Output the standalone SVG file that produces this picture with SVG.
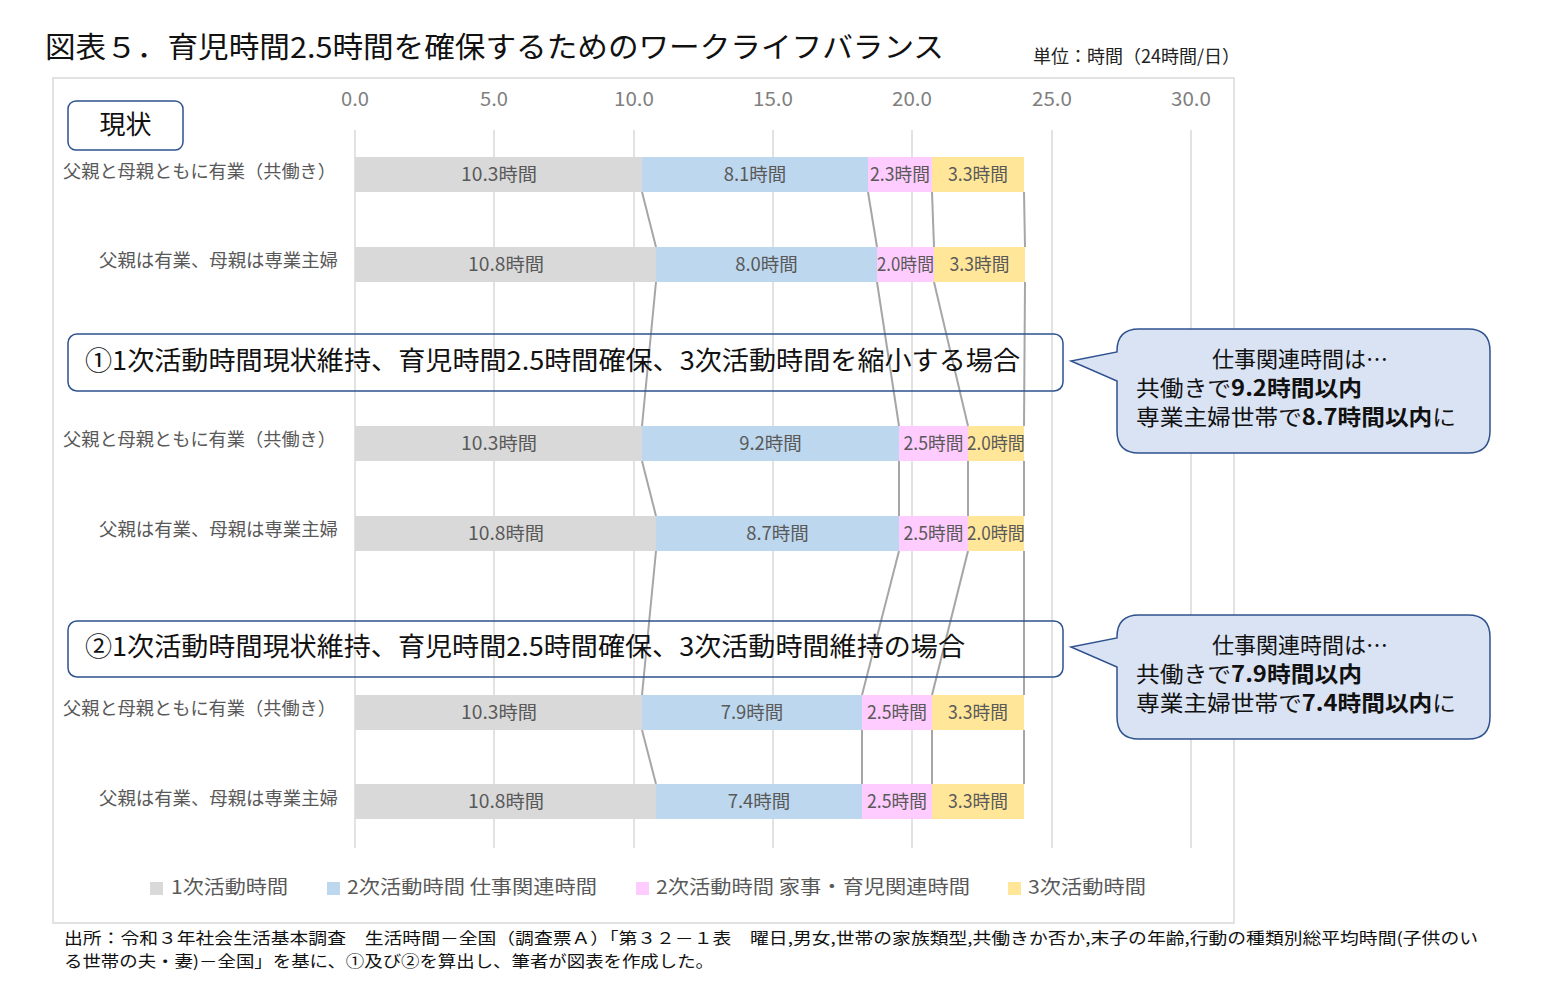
<svg xmlns="http://www.w3.org/2000/svg" width="1544" height="994" viewBox="0 0 1544 994">
<style>
text{font-family:"Noto Sans CJK JP","Noto Sans",sans-serif;}
.grid{stroke:#d9d9d9;stroke-width:1.5;}
.ax{font-size:19px;fill:#7f7f7f;text-anchor:middle;}
.rl{font-size:18px;fill:#595959;}
.bl{font-size:18.5px;fill:#595959;text-anchor:middle;}
.s1{fill:#d9d9d9;}
.s2{fill:#bdd7ee;}
.s3{fill:#ffccff;}
.s4{fill:#ffe699;}
.ser{stroke:#a6a6a6;stroke-width:2;fill:none;}
.box{fill:none;stroke:#2f528f;stroke-width:1.5;}
.bt{font-size:26px;fill:#111;}
.call{fill:#dae3f3;stroke:#2f528f;stroke-width:1.5;}
.ct{font-size:22px;fill:#111;}
.lg{font-size:19px;fill:#595959;}
.fn{font-size:16px;fill:#111;}
</style>
<rect width="1544" height="994" fill="#ffffff"/>
<g id="title">
<text x="45" y="58" font-size="29" fill="#111" textLength="899" lengthAdjust="spacingAndGlyphs">図表５．育児時間2.5時間を確保するためのワークライフバランス</text>
<text x="1033" y="63" font-size="18" fill="#222" textLength="207" lengthAdjust="spacingAndGlyphs">単位：時間（24時間/日）</text>
</g>
<rect id="chart-area" x="53" y="78" width="1181" height="845" fill="none" stroke="#d9d9d9" stroke-width="1.5"/>
<g id="axis">
<line class="grid" x1="355" y1="130" x2="355" y2="848"/>
<line class="grid" x1="494" y1="130" x2="494" y2="848"/>
<line class="grid" x1="634" y1="130" x2="634" y2="848"/>
<line class="grid" x1="773" y1="130" x2="773" y2="848"/>
<line class="grid" x1="912" y1="130" x2="912" y2="848"/>
<line class="grid" x1="1052" y1="130" x2="1052" y2="848"/>
<line class="grid" x1="1191" y1="130" x2="1191" y2="848"/>
<text class="ax" x="355" y="106" textLength="28" lengthAdjust="spacingAndGlyphs">0.0</text>
<text class="ax" x="494" y="106" textLength="28" lengthAdjust="spacingAndGlyphs">5.0</text>
<text class="ax" x="634" y="106" textLength="40" lengthAdjust="spacingAndGlyphs">10.0</text>
<text class="ax" x="773" y="106" textLength="40" lengthAdjust="spacingAndGlyphs">15.0</text>
<text class="ax" x="912" y="106" textLength="40" lengthAdjust="spacingAndGlyphs">20.0</text>
<text class="ax" x="1052" y="106" textLength="40" lengthAdjust="spacingAndGlyphs">25.0</text>
<text class="ax" x="1191" y="106" textLength="40" lengthAdjust="spacingAndGlyphs">30.0</text>
</g>
<g id="connectors">
<polyline class="ser" points="642,192 656,247"/>
<polyline class="ser" points="868,192 877,247"/>
<polyline class="ser" points="932,192 934,247"/>
<polyline class="ser" points="1024,192 1025,247"/>
<polyline class="ser" points="656,282 642,426"/>
<polyline class="ser" points="877,282 899,426"/>
<polyline class="ser" points="934,282 968,426"/>
<polyline class="ser" points="1025,282 1024,426"/>
<polyline class="ser" points="642,461 656,516"/>
<polyline class="ser" points="899,461 899,516"/>
<polyline class="ser" points="968,461 968,516"/>
<polyline class="ser" points="1024,461 1024,516"/>
<polyline class="ser" points="656,551 642,695"/>
<polyline class="ser" points="899,551 862,695"/>
<polyline class="ser" points="968,551 932,695"/>
<polyline class="ser" points="1024,551 1024,695"/>
<polyline class="ser" points="642,730 656,784"/>
<polyline class="ser" points="862,730 862,784"/>
<polyline class="ser" points="932,730 932,784"/>
<polyline class="ser" points="1024,730 1024,784"/>
</g>
<g id="genjo">
<rect class="box" x="68" y="101" width="115" height="49" rx="8"/>
<text x="125.5" y="134" font-size="26" fill="#111" text-anchor="middle">現状</text>
</g>
<g id="row1">
<text class="rl" x="63" y="178" textLength="273" lengthAdjust="spacingAndGlyphs">父親と母親ともに有業（共働き）</text>
<rect class="s1" x="355" y="157" width="287" height="35"/>
<rect class="s2" x="642" y="157" width="226" height="35"/>
<rect class="s3" x="868" y="157" width="64" height="35"/>
<rect class="s4" x="932" y="157" width="92" height="35"/>
<text class="bl" x="499" y="181" textLength="76" lengthAdjust="spacingAndGlyphs">10.3時間</text>
<text class="bl" x="755" y="181">8.1時間</text>
<text class="bl" x="900" y="181" textLength="60" lengthAdjust="spacingAndGlyphs">2.3時間</text>
<text class="bl" x="978" y="181" textLength="60" lengthAdjust="spacingAndGlyphs">3.3時間</text>
</g>
<g id="row2">
<text class="rl" x="99" y="267" textLength="239" lengthAdjust="spacingAndGlyphs">父親は有業、母親は専業主婦</text>
<rect class="s1" x="355" y="247" width="301" height="35"/>
<rect class="s2" x="656" y="247" width="221" height="35"/>
<rect class="s3" x="877" y="247" width="57" height="35"/>
<rect class="s4" x="934" y="247" width="91" height="35"/>
<text class="bl" x="506" y="271" textLength="76" lengthAdjust="spacingAndGlyphs">10.8時間</text>
<text class="bl" x="766.5" y="271">8.0時間</text>
<text class="bl" x="905.5" y="271" textLength="57" lengthAdjust="spacingAndGlyphs">2.0時間</text>
<text class="bl" x="979.5" y="271" textLength="60" lengthAdjust="spacingAndGlyphs">3.3時間</text>
</g>
<g id="case1">
<rect class="box" x="68" y="334" width="995" height="57" rx="9"/>
<text class="bt" x="85" y="370" textLength="935" lengthAdjust="spacingAndGlyphs">①1次活動時間現状維持、育児時間2.5時間確保、3次活動時間を縮小する場合</text>
</g>
<g id="row3">
<text class="rl" x="63" y="446" textLength="273" lengthAdjust="spacingAndGlyphs">父親と母親ともに有業（共働き）</text>
<rect class="s1" x="355" y="426" width="287" height="35"/>
<rect class="s2" x="642" y="426" width="257" height="35"/>
<rect class="s3" x="899" y="426" width="69" height="35"/>
<rect class="s4" x="968" y="426" width="56" height="35"/>
<text class="bl" x="499" y="450" textLength="76" lengthAdjust="spacingAndGlyphs">10.3時間</text>
<text class="bl" x="770.5" y="450">9.2時間</text>
<text class="bl" x="933.5" y="450" textLength="60" lengthAdjust="spacingAndGlyphs">2.5時間</text>
<text class="bl" x="996" y="450" textLength="58" lengthAdjust="spacingAndGlyphs">2.0時間</text>
</g>
<g id="row4">
<text class="rl" x="99" y="536" textLength="239" lengthAdjust="spacingAndGlyphs">父親は有業、母親は専業主婦</text>
<rect class="s1" x="355" y="516" width="301" height="35"/>
<rect class="s2" x="656" y="516" width="243" height="35"/>
<rect class="s3" x="899" y="516" width="69" height="35"/>
<rect class="s4" x="968" y="516" width="56" height="35"/>
<text class="bl" x="506" y="540" textLength="76" lengthAdjust="spacingAndGlyphs">10.8時間</text>
<text class="bl" x="777.5" y="540">8.7時間</text>
<text class="bl" x="933.5" y="540" textLength="60" lengthAdjust="spacingAndGlyphs">2.5時間</text>
<text class="bl" x="996" y="540" textLength="58" lengthAdjust="spacingAndGlyphs">2.0時間</text>
</g>
<g id="case2">
<rect class="box" x="68" y="621" width="995" height="56" rx="9"/>
<text class="bt" x="85" y="656" textLength="880" lengthAdjust="spacingAndGlyphs">②1次活動時間現状維持、育児時間2.5時間確保、3次活動時間維持の場合</text>
</g>
<g id="row5">
<text class="rl" x="63" y="715" textLength="273" lengthAdjust="spacingAndGlyphs">父親と母親ともに有業（共働き）</text>
<rect class="s1" x="355" y="695" width="287" height="35"/>
<rect class="s2" x="642" y="695" width="220" height="35"/>
<rect class="s3" x="862" y="695" width="70" height="35"/>
<rect class="s4" x="932" y="695" width="92" height="35"/>
<text class="bl" x="499" y="719" textLength="76" lengthAdjust="spacingAndGlyphs">10.3時間</text>
<text class="bl" x="752" y="719">7.9時間</text>
<text class="bl" x="897" y="719" textLength="60" lengthAdjust="spacingAndGlyphs">2.5時間</text>
<text class="bl" x="978" y="719" textLength="60" lengthAdjust="spacingAndGlyphs">3.3時間</text>
</g>
<g id="row6">
<text class="rl" x="99" y="805" textLength="239" lengthAdjust="spacingAndGlyphs">父親は有業、母親は専業主婦</text>
<rect class="s1" x="355" y="784" width="301" height="35"/>
<rect class="s2" x="656" y="784" width="206" height="35"/>
<rect class="s3" x="862" y="784" width="70" height="35"/>
<rect class="s4" x="932" y="784" width="92" height="35"/>
<text class="bl" x="506" y="808" textLength="76" lengthAdjust="spacingAndGlyphs">10.8時間</text>
<text class="bl" x="759" y="808">7.4時間</text>
<text class="bl" x="897" y="808" textLength="60" lengthAdjust="spacingAndGlyphs">2.5時間</text>
<text class="bl" x="978" y="808" textLength="60" lengthAdjust="spacingAndGlyphs">3.3時間</text>
</g>
<g id="callout1">
<path class="call" d="M1139,329 H1468 Q1490,329 1490,351 V431 Q1490,453 1468,453 H1139 Q1117,453 1117,431 V381 L1071,361 L1117,352 V351 Q1117,329 1139,329 Z"/>
<text class="ct" x="1300" y="367" text-anchor="middle">仕事関連時間は…</text>
<text class="ct" x="1136" y="396" textLength="226" lengthAdjust="spacingAndGlyphs">共働きで<tspan font-weight="bold">9.2時間以内</tspan></text>
<text class="ct" x="1136" y="425" textLength="320" lengthAdjust="spacingAndGlyphs">専業主婦世帯で<tspan font-weight="bold">8.7時間以内</tspan>に</text>
</g>
<g id="callout2">
<path class="call" d="M1139,615 H1468 Q1490,615 1490,637 V717 Q1490,739 1468,739 H1139 Q1117,739 1117,717 V667 L1071,647 L1117,638 V637 Q1117,615 1139,615 Z"/>
<text class="ct" x="1300" y="653" text-anchor="middle">仕事関連時間は…</text>
<text class="ct" x="1136" y="682" textLength="226" lengthAdjust="spacingAndGlyphs">共働きで<tspan font-weight="bold">7.9時間以内</tspan></text>
<text class="ct" x="1136" y="711" textLength="320" lengthAdjust="spacingAndGlyphs">専業主婦世帯で<tspan font-weight="bold">7.4時間以内</tspan>に</text>
</g>
<g id="legend">
<rect class="s1" x="150" y="882" width="13" height="13"/>
<text class="lg" x="171" y="894" textLength="117" lengthAdjust="spacingAndGlyphs">1次活動時間</text>
<rect class="s2" x="327" y="882" width="13" height="13"/>
<text class="lg" x="347" y="894" textLength="250" lengthAdjust="spacingAndGlyphs">2次活動時間 仕事関連時間</text>
<rect class="s3" x="636" y="882" width="13" height="13"/>
<text class="lg" x="656" y="894" textLength="314" lengthAdjust="spacingAndGlyphs">2次活動時間 家事・育児関連時間</text>
<rect class="s4" x="1008" y="882" width="13" height="13"/>
<text class="lg" x="1028" y="894" textLength="118" lengthAdjust="spacingAndGlyphs">3次活動時間</text>
</g>
<g id="source">
<text class="fn" x="64" y="944" textLength="1414" lengthAdjust="spacingAndGlyphs">出所：令和３年社会生活基本調査　生活時間－全国（調査票Ａ）「第３２－１表　曜日,男女,世帯の家族類型,共働きか否か,末子の年齢,行動の種類別総平均時間(子供のい</text>
<text class="fn" x="64" y="967" textLength="650" lengthAdjust="spacingAndGlyphs">る世帯の夫・妻)－全国」を基に、①及び②を算出し、筆者が図表を作成した。</text>
</g>
</svg>
